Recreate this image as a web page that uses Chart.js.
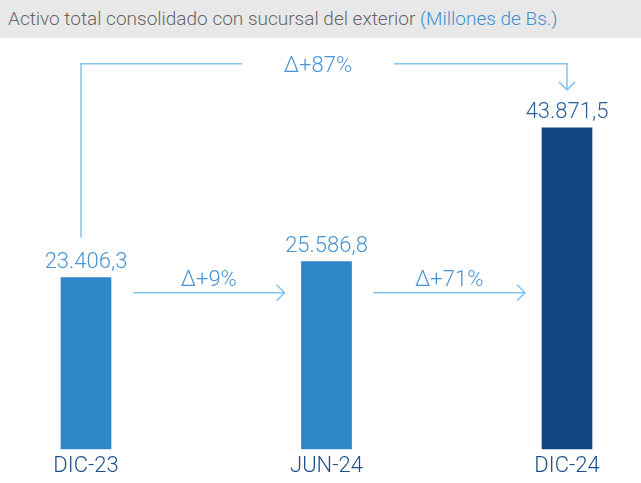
<!DOCTYPE html>
<html>
<head>
<meta charset="utf-8">
<script src="https://cdn.jsdelivr.net/npm/chart.js@4"></script>
<style>
  html, body { margin: 0; padding: 0; background: #fff; }
  #wrap { position: relative; width: 641px; height: 483px; }
  #title {
    position: absolute; left: 0; top: 0; width: 641px; height: 38px;
    background: #e8e8e8; box-sizing: border-box; padding-left: 8px;
    font-family: Roboto; font-weight: 300; font-size: 19px; line-height: 38px; color: #666;
    z-index: 2;
  }
  #title span { color: #3d8fd1; }
  canvas { position: absolute; left: 0; top: 0; }
</style>
</head>
<body>
<div id="wrap">
  <div id="title">Activo total consolidado con sucursal del exterior <span>(Millones de Bs.)</span></div>
  <canvas id="chart" width="641" height="483"></canvas>
</div>
<script>
// datos
const categories = ['DIC-23', 'JUN-24', 'DIC-24'];
const values = [23406.3, 25586.8, 43871.5];
const valueLabels = ['23.406,3', '25.586,8', '43.871,5'];
const stepDeltas = ['Δ+9%', 'Δ+71%'];
const totalDelta = 'Δ+87%';

const barColors = ['#2e86c8', '#2e86c8', '#124682'];
const labelColors = ['#4a94d4', '#4a94d4', '#2b5e9a'];
const lineColor = '#85c3ec';
const deltaColor = '#4a94d4';

function arrowHead(ctx, x, y, dir) {
  ctx.beginPath();
  if (dir === 'right') {
    ctx.moveTo(x - 8, y - 8); ctx.lineTo(x, y); ctx.lineTo(x - 8, y + 8);
  } else {
    ctx.moveTo(x - 8, y - 8); ctx.lineTo(x, y); ctx.lineTo(x + 8, y - 8);
  }
  ctx.stroke();
}

// etiquetas, flechas y variaciones
const annotate = {
  id: 'annotate',
  afterDatasetsDraw(chart) {
    const ctx = chart.ctx;
    const bars = chart.getDatasetMeta(0).data;
    const half = bars[0].width / 2;
    ctx.save();
    ctx.font = '300 22px Roboto';
    ctx.textAlign = 'center';
    ctx.textBaseline = 'alphabetic';
    bars.forEach((b, i) => {
      ctx.fillStyle = labelColors[i];
      ctx.fillText(valueLabels[i], b.x, b.y - 10);
    });

    ctx.strokeStyle = lineColor;
    ctx.lineWidth = 1.5;
    const ay = bars[0].y + 15;
    for (let i = 0; i < 2; i++) {
      const x0 = bars[i].x + half + 22;
      const x1 = bars[i + 1].x - half - 17;
      ctx.beginPath();
      ctx.moveTo(x0, ay); ctx.lineTo(x1, ay);
      ctx.stroke();
      arrowHead(ctx, x1, ay, 'right');
      ctx.fillStyle = deltaColor;
      ctx.fillText(stepDeltas[i], (x0 + x1) / 2, ay - 7);
    }

    // corchete superior
    const xl = bars[0].x - 5;
    const xr = bars[2].x;
    const ty = bars[2].y - 64;
    const mid = (xl + xr) / 2 - 6;
    ctx.beginPath();
    ctx.moveTo(xl, bars[0].y - 40);
    ctx.lineTo(xl, ty);
    ctx.lineTo(mid - 76, ty);
    ctx.moveTo(mid + 76, ty);
    ctx.lineTo(xr, ty);
    ctx.lineTo(xr, bars[2].y - 38);
    ctx.stroke();
    arrowHead(ctx, xr, bars[2].y - 38, 'down');
    ctx.fillStyle = deltaColor;
    ctx.fillText(totalDelta, mid, ty + 8);
    ctx.restore();
  }
};

const ctx = document.getElementById('chart').getContext('2d');
new Chart(ctx, {
  type: 'bar',
  data: {
    labels: categories,
    datasets: [{
      data: values,
      backgroundColor: barColors,
      barThickness: 50,
      clip: false
    }]
  },
  options: {
    responsive: false,
    animation: false,
    layout: { padding: { left: 86, right: 74, top: 83, bottom: 0 } },
    scales: {
      x: {
        offset: false,
        grid: { display: false, drawTicks: false },
        border: { display: false },
        ticks: {
          padding: 6,
          color: '#1f4f8a',
          font: { family: 'Roboto', weight: '300', size: 22, lineHeight: 1 }
        }
      },
      y: {
        display: false,
        min: 0,
        max: 50000
      }
    },
    plugins: {
      legend: { display: false },
      tooltip: { enabled: false }
    }
  },
  plugins: [annotate]
});
</script>
</body>
</html>
